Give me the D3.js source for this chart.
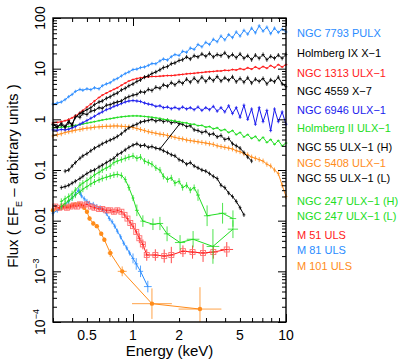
<!DOCTYPE html>
<html>
<head>
<meta charset="utf-8">
<script src="https://cdn.jsdelivr.net/npm/d3@7"></script>
<style>
  body { margin: 0; background: #fff; }
  svg { font-family: "Liberation Sans", Arial, sans-serif; }
</style>
</head>
<body>
<div id="chart"></div>
<script>
// shared energy grid (keV) for the dense spectra
const energyGrid = [0.30,0.32,0.34,0.36,0.38,0.40,0.42,0.45,0.47,0.50,
  0.53,0.56,0.60,0.63,0.67,0.71,0.75,0.79,0.84,0.89,
  0.94,1.00,1.06,1.12,1.19,1.26,1.33,1.41,1.50,1.58,
  1.68,1.78,1.88,2.00,2.11,2.24,2.37,2.51,2.66,2.82,
  2.99,3.16,3.35,3.55,3.76,3.98,4.22,4.47,4.73,5.01,
  5.31,5.62,5.96,6.31,6.68,7.08,7.50,7.94,8.41,8.91,
  9.44,10.0];

const fluxNgc7793 = [2.0,2.1,2.2,2.45,2.8, 3.1,3.55,3.9,3.75,4.0,
  3.85,4.2,4.0,4.6,5.0, 5.3,6.0,6.4,7.2,8.0,
  8.6,9.6,9.8,10.5,10.8, 11.6,12.6,12.5,14.2,15.5,
  14.8,17.2,19.0,18.2,22, 21,25.5,24,30,27,
  33,30,38,34,44, 37,47,41,53,44,
  57,48,63,51,70, 55,66,49,63,52,
  60,53];
const fluxHoIX = [0.8,0.72,0.78,0.7,0.86, 0.8,1.1,1.3,1.4,1.55,
  1.7,1.95,2.2,2.3,2.6, 2.8,3.1,3.3,3.8,4.1,
  4.6,5.0,5.6,6.0,6.8, 7.2,8.0,8.6,9.5,10.5,
  11,12.5,13,14.5,15, 17,15.5,18,17,19.5,
  17.5,20,17,19,18, 20.5,17,19,16.5,19.5,
  16,18,15,18.5,16, 19,15,17.5,16,18.5,
  16,19];
const fluxNgc1313 = [0.85,0.87,0.9,0.94,0.99, 1.07,1.17,1.35,1.5,1.75,
  2.0,2.3,2.7,3.0,3.3, 3.6,3.9,4.2,4.7,5.2,
  5.7,6.1,6.4,6.6,6.8, 6.9,7.0,7.0,7.1,7.2,
  7.3,7.3,7.4,7.6,7.7, 7.9,8.0,8.1,8.3,8.4,
  8.6,8.7,8.8,9.0,9.0, 9.3,9.2,9.6,9.4,10,
  9.6,10.4,9.8,10.8,10, 11,10.2,11.5,10.5,12,
  10.8,12];
const fluxNgc4559 = [0.78,0.7,0.85,0.72,0.95, 0.75,1.15,1.1,1.3,1.25,
  1.45,1.5,1.7,1.65,1.9, 1.95,2.1,2.2,2.3,2.6,
  2.8,3.0,3.1,3.5,3.4, 3.9,3.7,4.3,4.1,4.8,
  4.5,5.3,4.8,5.6,5.1, 6.2,5.4,6.5,5.5,6.8,
  5.6,6.6,5.8,7.0,5.7, 6.6,5.9,6.9,5.5,6.4,
  5.4,6.6,5.2,6.2,5.6, 6.4,5.0,6.0,5.5,6.8,
  5.0,4.4];
const fluxNgc6946 = [0.62,0.61,0.63,0.62,0.64, 0.68,0.72,0.8,0.86,0.95,
  1.05,1.15,1.3,1.4,1.55, 1.65,1.8,1.9,2.05,2.2,
  2.3,2.35,2.3,2.25,2.1, 2.0,1.95,1.8,1.85,1.7,
  1.75,1.62,1.72,1.6,1.75, 1.6,1.7,1.55,1.75,1.5,
  1.7,1.55,1.8,1.45,1.7, 1.4,1.85,1.3,1.7,1.1,
  1.9,1.0,1.6,0.8,1.7, 0.9,1.5,0.6,1.6,0.9,
  1.4,0.8];
const fluxHoII = [0.68,0.69,0.7,0.71,0.72, 0.74,0.76,0.79,0.81,0.84,
  0.87,0.9,0.94,0.97,1.0, 1.03,1.06,1.09,1.12,1.14,
  1.16,1.17,1.17,1.16,1.14, 1.12,1.1,1.07,1.04,1.0,
  0.98,0.95,0.92,0.9,0.86, 0.85,0.8,0.8,0.75,0.76,
  0.7,0.72,0.65,0.68,0.6, 0.63,0.55,0.6,0.5,0.55,
  0.45,0.5,0.42,0.46,0.38, 0.44,0.35,0.4,0.32,0.38,
  0.3,0.34];
const fluxNgc5408 = [0.47,0.5,0.52,0.55,0.57, 0.59,0.61,0.63,0.65,0.67,
  0.68,0.7,0.71,0.72,0.73, 0.73,0.74,0.74,0.73,0.72,
  0.71,0.69,0.66,0.63,0.6, 0.57,0.55,0.53,0.51,0.5,
  0.48,0.46,0.44,0.42,0.41, 0.39,0.38,0.37,0.36,0.35,
  0.34,0.33,0.32,0.3,0.29, 0.28,0.27,0.26,0.24,0.23,
  0.21,0.2,0.18,0.17,0.16, 0.15,0.13,0.12,0.1,0.085,
  0.05,0.03];
const fluxNgc55H = [null,null,null,0.095,0.1, 0.12,0.14,0.17,0.19,0.21,
  0.24,0.27,0.3,0.33,0.36, 0.39,0.42,0.46,0.52,0.6,
  0.68,0.75,0.8,0.88,0.92, 0.95,1.0,0.92,0.98,0.9,
  0.95,0.85,0.9,0.82,0.8, 0.72,0.75,0.62,0.6,0.55,
  0.58,0.5,0.52,0.45,0.48, 0.4,0.42,0.33,0.3,0.27,
  0.22,0.18,0.15,null,null, null,null,null,null,null,
  null,null];
const fluxNgc55L = [null,null,0.045,0.047,0.05, 0.055,0.06,0.068,0.075,0.085,
  0.095,0.1,0.115,0.125,0.14, 0.155,0.17,0.2,0.22,0.25,
  0.28,0.31,0.33,0.3,0.31, 0.28,0.29,0.27,0.26,0.24,
  0.22,0.2,0.19,0.16,0.15, 0.13,0.14,0.12,0.11,0.1,
  0.095,0.085,0.075,0.068,0.05, 0.045,0.035,0.03,0.024,0.018,
  0.013,null,null,null,null, null,null,null,null,null,
  null,null];

// binned spectra: [energy, flux, energy half-width (fraction), flux error (fraction)]
const ngc247H = [[0.34,0.024],[0.36,0.027],[0.38,0.03],[0.40,0.034],[0.42,0.04],
  [0.45,0.05],[0.47,0.055],[0.50,0.062],[0.53,0.07],[0.56,0.08],[0.60,0.09],
  [0.63,0.1],[0.67,0.11],[0.71,0.12],[0.75,0.14],[0.79,0.15],[0.84,0.16],
  [0.89,0.17],[0.94,0.18],[1.00,0.19],[1.06,0.17],[1.12,0.18],[1.19,0.15],
  [1.26,0.14],[1.33,0.13],[1.41,0.11],[1.50,0.1],[1.58,0.075],[1.68,0.065],
  [1.78,0.07],[1.88,0.055],[2.00,0.06],[2.11,0.045],[2.24,0.05],[2.37,0.04],
  [2.51,0.045],[2.66,0.032,0.03,0.3],[3.05,0.0125,0.05,0.6],[3.85,0.014,0.06,0.6],
  [4.5,0.011,0.05,0.45]];
const ngc247L = [[0.34,0.019],[0.36,0.022],[0.38,0.025],[0.40,0.028],[0.42,0.032],
  [0.45,0.037],[0.47,0.042],[0.50,0.047],[0.53,0.053],[0.56,0.058],[0.60,0.064],
  [0.63,0.068],[0.67,0.072],[0.71,0.076],[0.75,0.08],[0.79,0.082],[0.84,0.078],
  [0.89,0.065],[0.94,0.045],[1.00,0.028],[1.06,0.016,0.03,0.3],[1.16,0.0098,0.04,0.3],
  [1.35,0.0085,0.05,0.3],[1.5,0.0088,0.05,0.35],[1.67,0.0055,0.05,0.4],
  [2.03,0.0037,0.08,0.4],[2.47,0.0043,0.1,0.45],[3.33,0.0031,0.1,1.2],[4.5,0.0068,0.08,0.5]];
const m51 = [[0.31,0.019],[0.33,0.018],[0.35,0.019],[0.37,0.018],[0.39,0.019],
  [0.41,0.02],[0.43,0.019],[0.45,0.021],[0.47,0.02],[0.50,0.021],[0.53,0.019],
  [0.56,0.018],[0.60,0.017],[0.63,0.017],[0.67,0.016],[0.71,0.016],[0.75,0.015],
  [0.79,0.016],[0.84,0.015],[0.88,0.013],[0.92,0.011],[0.96,0.009],[1.0,0.0078],
  [1.05,0.006],[1.1,0.0045,0.03,0.25],[1.16,0.0034,0.03,0.25],[1.23,0.0021,0.04,0.3],
  [1.4,0.0021,0.05,0.3],[1.6,0.002,0.05,0.35],[1.78,0.0021,0.05,0.45],
  [2.12,0.0025,0.06,0.3],[2.45,0.0024,0.06,0.35],[2.87,0.0023,0.07,0.5],
  [3.35,0.0024,0.07,0.35],[4.1,0.0027,0.1,0.4]];
const m81 = [[0.30,0.014],[0.32,0.016],[0.34,0.018],[0.36,0.02],[0.38,0.024],
  [0.40,0.028],[0.42,0.033],[0.44,0.04],[0.45,0.036],[0.46,0.031],[0.48,0.027],
  [0.50,0.024],[0.52,0.022],[0.55,0.021],[0.58,0.019],[0.61,0.018],[0.64,0.016],
  [0.67,0.014],[0.70,0.011],[0.73,0.0095],[0.76,0.0078],[0.79,0.0062],[0.83,0.0048],
  [0.87,0.0036],[0.91,0.0029],[0.95,0.0023],[1.0,0.0018,0.025,0.25],
  [1.05,0.0014,0.03,0.3],[1.12,0.001,0.04,0.3],[1.25,0.0005,0.06,0.3]];
const m101 = [[0.30,0.016],[0.32,0.017],[0.34,0.018],[0.36,0.019],[0.38,0.019],
  [0.40,0.02],[0.42,0.021],[0.44,0.021],[0.46,0.02],[0.48,0.018],[0.50,0.015],
  [0.52,0.011],[0.55,0.0088],[0.58,0.0078],[0.62,0.0055],[0.65,0.0042],
  [0.71,0.0023,0.04,0.2],[0.85,0.001,0.07,0.25],[1.33,0.00023,0.35,1.0],
  [2.74,0.00018,0.38,1.7]];
// stray connector drawn between the two NGC 55 states
const ngc55Link = [[1.5,0.26],[2.03,0.83]];

const legendNames = ['NGC 7793 PULX','Holmberg IX X\u22121','NGC 1313 ULX\u22121','NGC 4559 X\u22127',
  'NGC 6946 ULX\u22121','Holmberg II ULX\u22121','NGC 55 ULX\u22121 (H)','NGC 5408 ULX\u22121',
  'NGC 55 ULX\u22121 (L)','NGC 247 ULX\u22121 (H)','NGC 247 ULX\u22121 (L)','M  51 ULS','M  81 ULS','M 101 ULS'];
const legendY = [33,53,73,91,110,128,147,163,178,201,216,235,250,266];

const xTickLabels = [0.5, 1, 2, 5, 10];
const yTickLabels = [[100,'100'],[10,'10'],[1,'1'],[0.1,'0.1'],[0.01,'0.01'],[1e-3,'10','\u22123'],[1e-4,'10','\u22124']];

// colours
const LBLUE = '#2a8cff', BLACK = '#000', RED = '#ff1a1a', BLUE = '#1a1aee',
      GREEN = '#22dd22', ORANGE = '#ff8c1a';

// set dimensions
const w = 399, h = 362;
const padLeft = 53, padRight = 286, padTop = 18, padBottom = 322;

const x = d3.scaleLog().domain([0.3, 10]).range([padLeft, padRight]);
const y = d3.scaleLog().domain([1e-4, 100]).range([padBottom, padTop]);

const svg = d3.select('#chart').append('svg').attr('width', w).attr('height', h);

const onGrid = flux => energyGrid.map((e, i) => [e, flux[i]]).filter(d => d[1] != null);

const series = [
  {color: LBLUE, pts: onGrid(fluxNgc7793), err: 0.08},
  {color: BLACK, pts: onGrid(fluxHoIX), err: 0.1},
  {color: RED, pts: onGrid(fluxNgc1313), err: 0.05},
  {color: BLACK, pts: onGrid(fluxNgc4559), err: 0.1},
  {color: BLUE, pts: onGrid(fluxNgc6946), err: 0.08},
  {color: GREEN, pts: onGrid(fluxHoII), err: 0.05},
  {color: BLACK, pts: onGrid(fluxNgc55H), err: 0.1},
  {color: ORANGE, pts: onGrid(fluxNgc5408), err: 0.12},
  {color: BLACK, pts: onGrid(fluxNgc55L), err: 0.1},
  {color: GREEN, pts: ngc247H, err: 0.15},
  {color: GREEN, pts: ngc247L, err: 0.15},
  {color: RED, pts: m51, err: 0.12, marker: 'square'},
  {color: LBLUE, pts: m81, err: 0.12},
  {color: ORANGE, pts: m101, err: 0.1, marker: 'circle'}
];

const line = d3.line().x(d => x(d[0])).y(d => y(d[1]));

// draw the spectra, last legend entry first
series.slice().reverse().forEach(s => {
  const g = svg.append('g').attr('stroke', s.color).attr('fill', 'none');
  g.append('path').attr('d', line(s.pts)).attr('stroke-width', 1);
  g.selectAll('.ev').data(s.pts).join('line').attr('class', 'ev')
    .attr('stroke-width', 0.8)
    .attr('x1', d => x(d[0])).attr('x2', d => x(d[0]))
    .attr('y1', d => y(d[1] * (1 + (d[3] ?? s.err))))
    .attr('y2', d => y(Math.max(d[1] / (1 + (d[3] ?? s.err)), 1e-4)));
  g.selectAll('.eh').data(s.pts).join('line').attr('class', 'eh')
    .attr('stroke-width', 0.8)
    .attr('x1', d => x(d[0] / (1 + (d[2] ?? 0.022))))
    .attr('x2', d => x(d[0] * (1 + (d[2] ?? 0.022))))
    .attr('y1', d => y(d[1])).attr('y2', d => y(d[1]));
  if (s.marker === 'square') {
    g.selectAll('.mk').data(s.pts).join('rect').attr('class', 'mk')
      .attr('stroke', '#ff7070').attr('stroke-width', 0.9)
      .attr('x', d => x(d[0]) - 2.5).attr('y', d => y(d[1]) - 2.5)
      .attr('width', 5).attr('height', 5);
  }
  if (s.marker === 'circle') {
    g.selectAll('.mk').data(s.pts).join('circle').attr('class', 'mk')
      .attr('fill', s.color).attr('stroke', 'none')
      .attr('cx', d => x(d[0])).attr('cy', d => y(d[1])).attr('r', 2.2);
  }
});

svg.append('path').attr('d', line(ngc55Link)).attr('stroke', BLACK).attr('fill', 'none');

// axes: ticks on all four sides, pointing inward
const xMajor = [1, 10];
const xMinor = x.ticks().filter(v => !xMajor.includes(v));
const yMajor = yTickLabels.map(d => d[0]);
const yMinor = y.ticks().filter(v => !yMajor.some(m => Math.abs(m - v) / m < 1e-6));

const noDomain = g => g.select('.domain').remove();
const addAxis = (axis, tr) => svg.append('g').attr('transform', tr)
  .call(axis.tickFormat('').tickSizeOuter(0)).call(noDomain)
  .call(g => g.selectAll('line').attr('stroke-width', 1));

addAxis(d3.axisBottom(x).tickValues(xMajor).tickSize(-8), `translate(0,${padBottom})`);
addAxis(d3.axisBottom(x).tickValues(xMinor).tickSize(-4), `translate(0,${padBottom})`);
addAxis(d3.axisTop(x).tickValues(xMajor).tickSize(-8), `translate(0,${padTop})`);
addAxis(d3.axisTop(x).tickValues(xMinor).tickSize(-4), `translate(0,${padTop})`);
addAxis(d3.axisLeft(y).tickValues(yMajor).tickSize(-8), `translate(${padLeft},0)`);
addAxis(d3.axisLeft(y).tickValues(yMinor).tickSize(-4), `translate(${padLeft},0)`);
addAxis(d3.axisRight(y).tickValues(yMajor).tickSize(-8), `translate(${padRight},0)`);
addAxis(d3.axisRight(y).tickValues(yMinor).tickSize(-4), `translate(${padRight},0)`);

svg.append('rect').attr('x', padLeft).attr('y', padTop)
  .attr('width', padRight - padLeft).attr('height', padBottom - padTop)
  .attr('fill', 'none').attr('stroke', '#000').attr('stroke-width', 1.4);

// tick labels
svg.append('g').selectAll('text').data(xTickLabels).join('text')
  .attr('x', d => x(d)).attr('y', 340)
  .attr('text-anchor', 'middle').attr('font-size', 14)
  .text(d => d);

const yl = svg.append('g').selectAll('text').data(yTickLabels).join('text')
  .attr('transform', d => `translate(45,${y(d[0])}) rotate(-90)`)
  .attr('text-anchor', 'middle').attr('font-size', 14);
yl.append('tspan').text(d => d[1]);
yl.filter(d => d[2]).append('tspan').attr('font-size', 9).attr('dy', -6).text(d => d[2]);

// axis titles
svg.append('text').attr('x', (padLeft + padRight) / 2).attr('y', 356)
  .attr('text-anchor', 'middle').attr('font-size', 15).text('Energy (keV)');

const yt = svg.append('text').attr('transform', `translate(18,${(padTop + padBottom) / 2 + 6}) rotate(-90)`)
  .attr('text-anchor', 'middle').attr('font-size', 15);
yt.append('tspan').text('Flux ( EF');
yt.append('tspan').attr('font-size', 9).attr('dy', 4).text('E');
yt.append('tspan').attr('dy', -4).text(' \u2013 arbitrary units )');

// legend
svg.append('g').selectAll('text').data(legendNames).join('text')
  .attr('x', 297).attr('y', (d, i) => legendY[i] + 4)
  .attr('font-size', 11)
  .attr('fill', (d, i) => series[i].color)
  .text(d => d);
</script>
</body>
</html>
